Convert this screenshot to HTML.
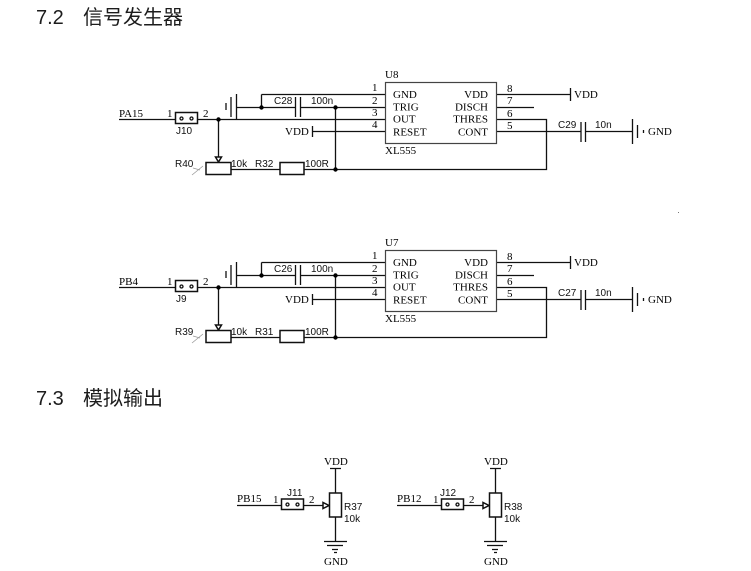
<!DOCTYPE html>
<html><head><meta charset="utf-8">
<style>
html,body{margin:0;padding:0;background:#fff;width:751px;height:571px;overflow:hidden}
svg{display:block}
.h{font-family:"Liberation Sans","Noto Sans CJK SC",sans-serif;font-size:20px;fill:#1c1c1c}
.s{font-family:"Liberation Serif",serif;font-size:11px;fill:#000}
.a{font-family:"Liberation Sans",sans-serif;font-size:10px;fill:#111}
.l{stroke:#111;stroke-width:1.3;fill:none}
.b{stroke:#111;stroke-width:1.5;fill:#fff}
.d{fill:#000}
#c{filter:blur(.3px)}
</style></head><body>
<svg width="751" height="571" viewBox="0 0 751 571" xmlns="http://www.w3.org/2000/svg">
<text class="h" x="36" y="24">7.2</text><text class="h" x="83" y="24">信号发生器</text>
<text class="h" x="36" y="405">7.3</text><text class="h" x="83" y="405">模拟输出</text>
<g id="c">
<g id="t">
<path class="l" d="M119 119.500H175M197 119.500H385M218.500 119.500V157M261.500 94.500H385M261.500 94.500V107.500M236.500 107.500H295.500M300.500 107.500H385M335.500 107.500V169.500M231 169.500H280M304 169.500H546.500V119.500H496M236.500 94V120M231 97V117M226 103V110M295.500 97V117M300.500 97V117M312.500 131.500H385M312.500 126V137M496 94.500H570.500M570.500 88V101M496 107.500H534M496 131.500H581M585.500 131.500H632M581 122V142M585.500 122V142M632.500 119V144M637.500 125V138M643.500 130V133"/>
<circle class="d" cx="218.500" cy="119.500" r="2.200"/><circle class="d" cx="261.500" cy="107.500" r="2.200"/><circle class="d" cx="335.500" cy="107.500" r="2.200"/><circle class="d" cx="335.500" cy="169.500" r="2.200"/>
<rect class="b" x="175.500" y="112.500" width="22" height="11"/>
<circle class="l" cx="181.500" cy="118.500" r="1.500"/><circle class="l" cx="191.500" cy="118.500" r="1.500"/>
<path class="b" d="M215.500 157H221.500L218.500 162Z"/>
<rect class="b" x="206" y="162.500" width="25" height="12"/>
<rect class="b" x="280" y="162.500" width="24" height="12"/>
<path d="M192 175L203 166M193 168L200 170" stroke="#999" stroke-width=".8" fill="none"/>
<rect x="385.500" y="82.500" width="111" height="61" fill="#fff" stroke="#444" stroke-width="1.200"/>
<text class="s" x="385" y="78">U8</text><text class="s" x="385" y="154">XL555</text>
<g class="s"><text x="393" y="98">GND</text><text x="393" y="110.500">TRIG</text><text x="393" y="122.500">OUT</text><text x="393" y="135.500">RESET</text>
<text x="488" y="98" text-anchor="end">VDD</text><text x="488" y="110.500" text-anchor="end">DISCH</text><text x="488" y="122.500" text-anchor="end">THRES</text><text x="488" y="135.500" text-anchor="end">CONT</text>
<text x="372" y="91">1</text><text x="372" y="104">2</text><text x="372" y="116">3</text><text x="372" y="128">4</text>
<text x="507" y="92">8</text><text x="507" y="104">7</text><text x="507" y="117">6</text><text x="507" y="129">5</text>
<text x="285" y="135">VDD</text><text x="574" y="98">VDD</text><text x="648" y="135">GND</text><text x="167" y="117">1</text><text x="203" y="117">2</text></g>
<g class="a"><text x="274" y="104">C28</text><text x="311" y="104">100n</text><text x="558" y="128">C29</text><text x="595" y="128">10n</text><text x="175" y="167">R40</text><text x="231" y="167">10k</text><text x="255" y="167">R32</text><text x="305" y="167">100R</text></g>
<text class="s" x="119" y="117">PA15</text><text class="a" x="176" y="134">J10</text>
</g>
<g id="u">
<path class="l" d="M119 287.500H175M197 287.500H385M218.500 287.500V325M261.500 262.500H385M261.500 262.500V275.500M236.500 275.500H295.500M300.500 275.500H385M335.500 275.500V337.500M231 337.500H280M304 337.500H546.500V287.500H496M236.500 262V288M231 265V285M226 271V278M295.500 265V285M300.500 265V285M312.500 299.500H385M312.500 294V305M496 262.500H570.500M570.500 256V269M496 275.500H534M496 299.500H581M585.500 299.500H632M581 290V310M585.500 290V310M632.500 287V312M637.500 293V306M643.500 298V301"/>
<circle class="d" cx="218.500" cy="287.500" r="2.200"/><circle class="d" cx="261.500" cy="275.500" r="2.200"/><circle class="d" cx="335.500" cy="275.500" r="2.200"/><circle class="d" cx="335.500" cy="337.500" r="2.200"/>
<rect class="b" x="175.500" y="280.500" width="22" height="11"/>
<circle class="l" cx="181.500" cy="286.500" r="1.500"/><circle class="l" cx="191.500" cy="286.500" r="1.500"/>
<path class="b" d="M215.500 325H221.500L218.500 330Z"/>
<rect class="b" x="206" y="330.500" width="25" height="12"/>
<rect class="b" x="280" y="330.500" width="24" height="12"/>
<path d="M192 343L203 334M193 336L200 338" stroke="#999" stroke-width=".8" fill="none"/>
<rect x="385.500" y="250.500" width="111" height="61" fill="#fff" stroke="#444" stroke-width="1.200"/>
<text class="s" x="385" y="246">U7</text><text class="s" x="385" y="322">XL555</text>
<g class="s"><text x="393" y="266">GND</text><text x="393" y="278.500">TRIG</text><text x="393" y="290.500">OUT</text><text x="393" y="303.500">RESET</text>
<text x="488" y="266" text-anchor="end">VDD</text><text x="488" y="278.500" text-anchor="end">DISCH</text><text x="488" y="290.500" text-anchor="end">THRES</text><text x="488" y="303.500" text-anchor="end">CONT</text>
<text x="372" y="259">1</text><text x="372" y="272">2</text><text x="372" y="284">3</text><text x="372" y="296">4</text>
<text x="507" y="260">8</text><text x="507" y="272">7</text><text x="507" y="285">6</text><text x="507" y="297">5</text>
<text x="285" y="303">VDD</text><text x="574" y="266">VDD</text><text x="648" y="303">GND</text><text x="167" y="285">1</text><text x="203" y="285">2</text></g>
<g class="a"><text x="274" y="272">C26</text><text x="311" y="272">100n</text><text x="558" y="296">C27</text><text x="595" y="296">10n</text><text x="175" y="335">R39</text><text x="231" y="335">10k</text><text x="255" y="335">R31</text><text x="305" y="335">100R</text></g>
<text class="s" x="119" y="285">PB4</text><text class="a" x="176" y="302">J9</text>
</g>
<g id="b1">
<path class="l" d="M237 505.500H281M303 505.500H323M335.500 468V493M335.500 517V541M330 468.500H341M324 541.500H347M327 545.500H343M332 549.500H338M334 552.500H337"/>
<rect class="b" x="281.500" y="499" width="22" height="10.500"/>
<circle class="l" cx="287.500" cy="504.500" r="1.500"/><circle class="l" cx="297.500" cy="504.500" r="1.500"/>
<path class="b" d="M323 502.500V508.500L329 505.500Z"/>
<rect class="b" x="329.500" y="493" width="12" height="24"/>
<g class="s"><text x="237" y="502">PB15</text><text x="273" y="503">1</text><text x="309" y="503">2</text><text x="324" y="465">VDD</text><text x="324" y="565">GND</text></g>
<g class="a"><text x="287" y="496">J11</text><text x="344" y="510">R37</text><text x="344" y="522">10k</text></g>
</g>
<g id="b2">
<path class="l" d="M397 505.500H441M463 505.500H483M495.500 468V493M495.500 517V541M490 468.500H501M484 541.500H507M487 545.500H503M492 549.500H498M494 552.500H497"/>
<rect class="b" x="441.500" y="499" width="22" height="10.500"/>
<circle class="l" cx="447.500" cy="504.500" r="1.500"/><circle class="l" cx="457.500" cy="504.500" r="1.500"/>
<path class="b" d="M483 502.500V508.500L489 505.500Z"/>
<rect class="b" x="489.500" y="493" width="12" height="24"/>
<g class="s"><text x="397" y="502">PB12</text><text x="433" y="503">1</text><text x="469" y="503">2</text><text x="484" y="465">VDD</text><text x="484" y="565">GND</text></g>
<g class="a"><text x="440" y="496">J12</text><text x="504" y="510">R38</text><text x="504" y="522">10k</text></g>
</g>
</g>
<rect x="678" y="212" width="1" height="1" fill="#777"/>
</svg>
</body></html>
